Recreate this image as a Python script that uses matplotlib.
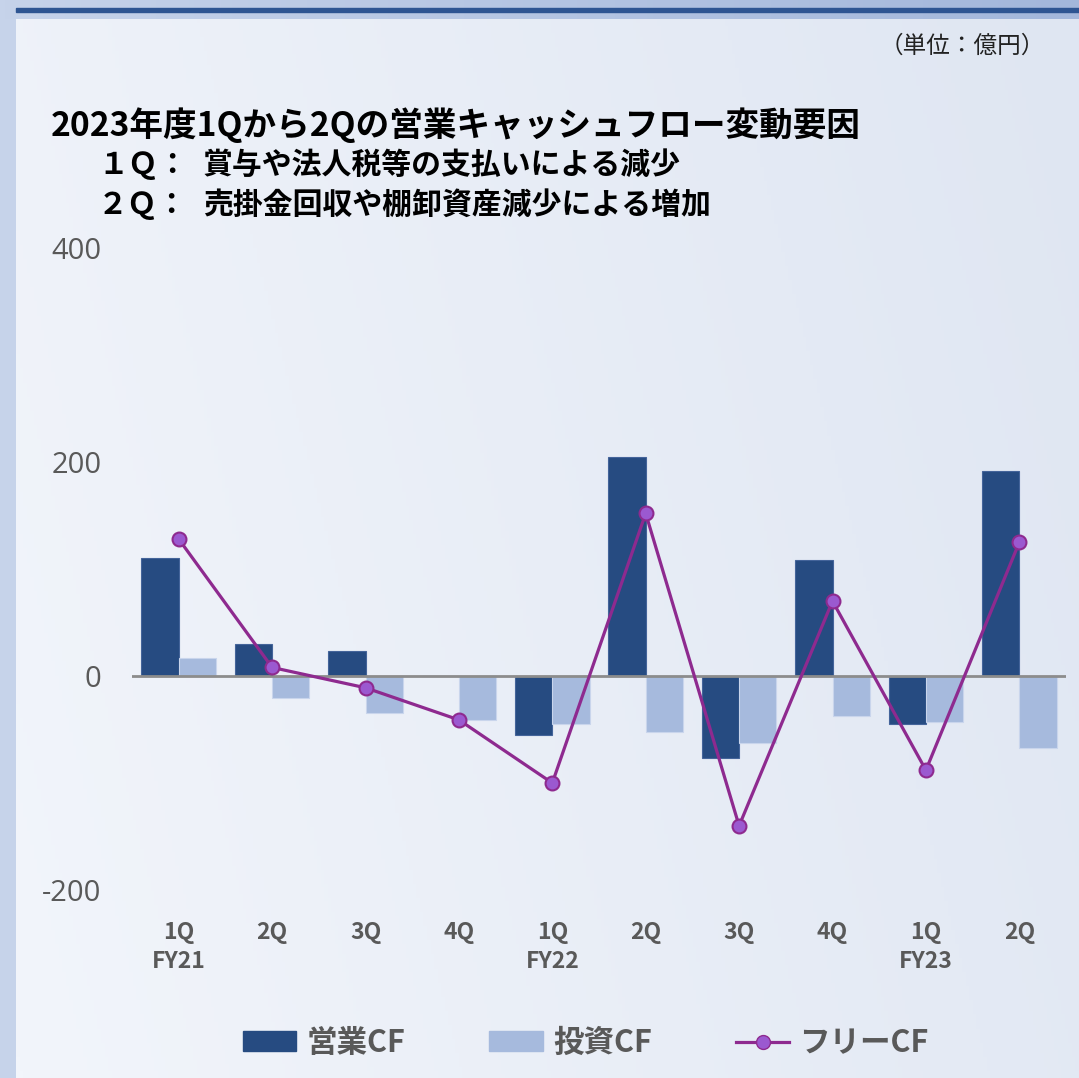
import numpy as np
import matplotlib.pyplot as plt
from matplotlib.patches import Rectangle
from matplotlib.lines import Line2D
from matplotlib.colors import LinearSegmentedColormap

plt.rcParams['font.family'] = ['Noto Sans CJK JP', 'DejaVu Sans']

# data (億円)
quarters = ['1Q', '2Q', '3Q', '4Q', '1Q', '2Q', '3Q', '4Q', '1Q', '2Q']
fiscal_years = {0: 'FY21', 4: 'FY22', 8: 'FY23'}
operating_cf = [110, 30, 23, 0, -55, 205, -77, 108, -45, 192]
investing_cf = [17, -21, -35, -41, -45, -52, -63, -37, -43, -67]
free_cf = [128, 8, -11, -41, -100, 152, -140, 70, -88, 125]
yticks = [-200, 0, 200, 400]

title = '2023年度1Qから2Qの営業キャッシュフロー変動要因'
sub1 = ('１Ｑ：', '賞与や法人税等の支払いによる減少')
sub2 = ('２Ｑ：', '売掛金回収や棚卸資産減少による増加')
unit = '（単位：億円）'

dark = '#264b81'
light = '#a6badd'
purple = '#8e2a8f'
grey = '#595959'

W, H = 1079, 1078
fig = plt.figure(figsize=(W / 100, H / 100), dpi=100)
fig.patch.set_facecolor('#c6d3ea')

# top bands
top = fig.add_axes([0, 1 - 19 / H, 1, 19 / H])
band = np.linspace(0, 1, 200)[None, :]
cm_band = LinearSegmentedColormap.from_list('b', ['#c6d3ea', '#a3b7db'])
top.imshow(band, aspect='auto', cmap=cm_band, extent=[0, 1, 0, 1])
top.add_patch(Rectangle((16 / W, 8 / 19 - 0.5 / 19), 1, 4 / 19, color='#2e5592'))
top.set_xlim(0, 1); top.set_ylim(0, 1)
top.axis('off')

# panel background gradient
bg = fig.add_axes([16 / W, 0, 1 - 16 / W, 1 - 19 / H])
xx, yy = np.meshgrid(np.linspace(0, 1, 300), np.linspace(0, 1, 300))
grad = 0.8 * xx + 0.2 * (1 - yy)
cm_bg = LinearSegmentedColormap.from_list('g', ['#f2f5fb', '#dfe6f2'])
bg.imshow(grad, aspect='auto', cmap=cm_bg, origin='upper', extent=[0, 1, 0, 1])
bg.axis('off')

# chart
ax = fig.add_axes([132 / W, 1 - 890 / H, (1066 - 132) / W, (890 - 248) / H])
ax.patch.set_alpha(0)
x = np.arange(len(quarters))
w = 0.4
ax.bar(x - w / 2, operating_cf, w, color=dark, edgecolor='#44649a', linewidth=0.8, zorder=2)
ax.bar(x + w / 2, investing_cf, w, color=light, edgecolor='#c9d5ec', linewidth=0.8, zorder=2)
ax.axhline(0, color='#8c8c8c', linewidth=2, zorder=3)
ax.plot(x, free_cf, color=purple, linewidth=2.3, marker='o', markersize=10,
        markerfacecolor='#9b59d0', markeredgecolor=purple, markeredgewidth=1.5, zorder=4)

ax.set_xlim(-0.5, len(quarters) - 0.5)
ax.set_ylim(-200, 400)
ax.set_yticks(yticks)
ax.set_yticklabels([str(v) for v in yticks], fontsize=21, color=grey,
                   family=['Open Sans', 'DejaVu Sans'])
ax.tick_params(axis='y', length=0, pad=22)
ax.set_xticks(x)
ax.set_xticklabels(quarters, fontsize=16.5, fontweight='bold', color=grey)
ax.tick_params(axis='x', length=0, pad=22)
for i, fy in fiscal_years.items():
    ax.text(i, -0.112, fy, transform=ax.get_xaxis_transform(), ha='center', va='center',
            fontsize=16.5, fontweight='bold', color=grey)
for s in ax.spines.values():
    s.set_visible(False)

# texts
fig.text(1045 / W, 1 - 46 / H, unit, ha='right', va='center', fontsize=17, color='#222222')
fig.text(51 / W, 1 - 125 / H, title, ha='left', va='center', fontsize=24.2, fontweight='bold', color='black')
fig.text(98 / W, 1 - 165 / H, sub1[0], ha='left', va='center', fontsize=21.5, fontweight='bold')
fig.text(203 / W, 1 - 165 / H, sub1[1], ha='left', va='center', fontsize=21.5, fontweight='bold')
fig.text(98 / W, 1 - 205 / H, sub2[0], ha='left', va='center', fontsize=21.5, fontweight='bold')
fig.text(203 / W, 1 - 205 / H, sub2[1], ha='left', va='center', fontsize=21.5, fontweight='bold')

# legend
handles = [Rectangle((0, 0), 1, 1, color=dark), Rectangle((0, 0), 1, 1, color=light),
           Line2D([], [], color=purple, linewidth=2.3, marker='o', markersize=10,
                  markerfacecolor='#9b59d0', markeredgecolor=purple)]
leg = fig.legend(handles, ['営業CF', '投資CF', 'フリーCF'], loc='center', bbox_to_anchor=(0.543, 1 - 1043 / H),
                 ncol=3, frameon=False, handlelength=1.75, handleheight=0.65, columnspacing=2.75,
                 handletextpad=0.33, prop={'size': 22, 'weight': 'bold'})
for t in leg.get_texts():
    t.set_color(grey)

fig.savefig('out.png', dpi=100)
